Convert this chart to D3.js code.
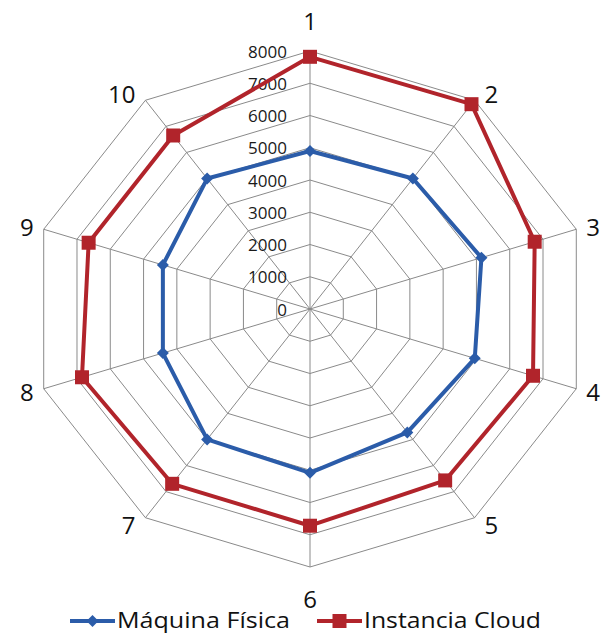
<!DOCTYPE html>
<html>
<head>
<meta charset="utf-8">
<script src="https://cdn.jsdelivr.net/npm/d3@7"></script>
<style>
    body { margin: 0; background: #fff; }
    svg { display: block; font-family: "Open Sans", "DejaVu Sans", sans-serif; }
</style>
</head>
<body>
<div id="chart"></div>
<script>
/* Radar chart: Máquina Física vs Instancia Cloud */

var axisLabels = ["1", "2", "3", "4", "5", "6", "7", "8", "9", "10"];
var tickValues = [0, 1000, 2000, 3000, 4000, 5000, 6000, 7000, 8000];
var maquinaFisica = [4900, 5000, 5150, 4950, 4730, 5080, 5000, 4420, 4420, 5000];
var instanciaCloud = [7820, 7850, 6750, 6700, 6570, 6720, 6700, 6850, 6650, 6650];

var colorFisica = "#2b5ca9";
var colorCloud = "#b1242b";

// Width and height
var w = 607;
var h = 637;
var cx = 310;
var cy = 309;
// the original picture is a little wider than it is tall
var rx = 280;
var ry = 258;

var r = d3.scaleLinear().domain([0, 8000]).range([0, 1]);
var angle = d3.scaleLinear().domain([0, axisLabels.length]).range([0, 2 * Math.PI]);

function px(i, v) {
    return cx + r(v) * rx * Math.sin(angle(i));
}
function py(i, v) {
    return cy - r(v) * ry * Math.cos(angle(i));
}

var svg = d3.select("#chart")
    .append("svg")
    .attr("width", w)
    .attr("height", h);

// Rings
var rings = tickValues.filter(function (t) { return t > 0; });
svg.append("g")
    .selectAll("polygon")
    .data(rings)
    .enter()
    .append("polygon")
    .attr("points", function (t) {
        return axisLabels.map(function (d, i) {
            return px(i, t) + "," + py(i, t);
        }).join(" ");
    })
    .attr("fill", "none")
    .attr("stroke", "#8a8a8a")
    .attr("stroke-width", 1);

// Spokes
svg.append("g")
    .selectAll("line")
    .data(axisLabels)
    .enter()
    .append("line")
    .attr("x1", cx)
    .attr("y1", cy)
    .attr("x2", function (d, i) { return px(i, 8000); })
    .attr("y2", function (d, i) { return py(i, 8000); })
    .attr("stroke", "#8a8a8a")
    .attr("stroke-width", 1);

// Tick labels
svg.append("g")
    .selectAll("text")
    .data(tickValues)
    .enter()
    .append("text")
    .attr("x", cx - 23)
    .attr("y", function (t) { return py(0, t); })
    .attr("text-anchor", "end")
    .attr("dominant-baseline", "central")
    .attr("font-size", 17)
    .attr("fill", "#1a1a1a")
    .text(function (t) { return t; });

// Axis labels
svg.append("g")
    .selectAll("text")
    .data(axisLabels)
    .enter()
    .append("text")
    .attr("x", function (d, i) {
        var s = Math.sin(angle(i));
        var x = px(i, 8000);
        if (Math.abs(s) < 0.01) return x;
        return x + (s > 0 ? 10 : -10);
    })
    .attr("y", function (d, i) {
        var c = Math.cos(angle(i));
        var s = Math.sin(angle(i));
        var y = py(i, 8000);
        if (Math.abs(s) < 0.01) return y - c * 31;
        return y - 8 * c;
    })
    .attr("text-anchor", function (d, i) {
        var s = Math.sin(angle(i));
        if (Math.abs(s) < 0.01) return "middle";
        return s > 0 ? "start" : "end";
    })
    .attr("dominant-baseline", "central")
    .attr("font-size", 24)
    .attr("fill", "#111")
    .text(function (d) { return d; });

// Series
var series = [
    { name: "Máquina Física", values: maquinaFisica, color: colorFisica, marker: "diamond", textW: 173 },
    { name: "Instancia Cloud", values: instanciaCloud, color: colorCloud, marker: "square", textW: 177 }
];

var line = d3.line()
    .x(function (d) { return px(d.i, d.v); })
    .y(function (d) { return py(d.i, d.v); })
    .curve(d3.curveLinearClosed);

function markerPath(type, size) {
    var s = size / 2;
    if (type === "diamond") {
        return "M0," + (-s) + "L" + s + ",0L0," + s + "L" + (-s) + ",0Z";
    }
    return "M" + (-s) + "," + (-s) + "H" + s + "V" + s + "H" + (-s) + "Z";
}

series.forEach(function (sr) {
    var pts = sr.values.map(function (v, i) { return { i: i, v: v }; });
    var g = svg.append("g");
    g.append("path")
        .attr("d", line(pts))
        .attr("fill", "none")
        .attr("stroke", sr.color)
        .attr("stroke-width", 4)
        .attr("stroke-linejoin", "round");
    g.selectAll("path.marker")
        .data(pts)
        .enter()
        .append("path")
        .attr("class", "marker")
        .attr("transform", function (d) {
            return "translate(" + px(d.i, d.v) + "," + py(d.i, d.v) + ")";
        })
        .attr("d", markerPath(sr.marker, sr.marker === "diamond" ? 12 : 14))
        .attr("fill", sr.color);
});

// Legend
var legendY = 621;
var legendX = [70, 317];
var legend = svg.append("g")
    .selectAll("g")
    .data(series)
    .enter()
    .append("g")
    .attr("transform", function (d, i) { return "translate(" + legendX[i] + "," + legendY + ")"; });

legend.append("line")
    .attr("x1", 0)
    .attr("x2", 45)
    .attr("stroke", function (d) { return d.color; })
    .attr("stroke-width", 4);
legend.append("path")
    .attr("transform", "translate(22.5,0)")
    .attr("d", function (d) { return markerPath(d.marker, d.marker === "diamond" ? 12 : 14); })
    .attr("fill", function (d) { return d.color; });
legend.append("text")
    .attr("x", 47)
    .attr("y", 7)
    .attr("font-size", 21)
    .attr("textLength", function (d) { return d.textW; })
    .attr("lengthAdjust", "spacingAndGlyphs")
    .attr("fill", "#111")
    .text(function (d) { return d.name; });
</script>
</body>
</html>
